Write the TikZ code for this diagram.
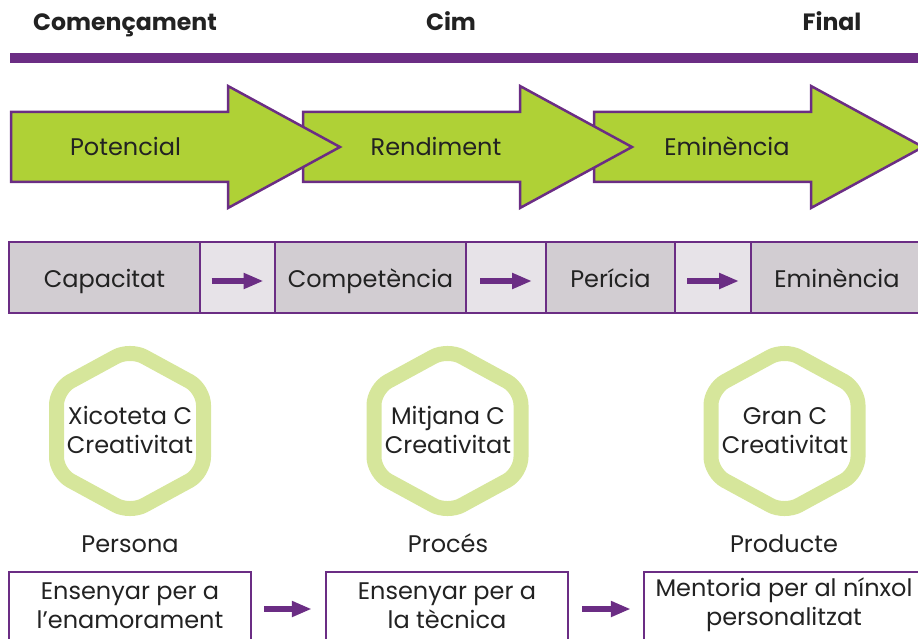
\documentclass[tikz,border=0pt]{standalone}
\usepackage{fontspec}
\setmainfont{Poppins}
\usetikzlibrary{arrows.meta}
\definecolor{purp}{HTML}{6B2D84}
\definecolor{lime}{HTML}{AFD136}
\definecolor{hexg}{HTML}{D6E69B}
\definecolor{boxg}{HTML}{D2CDD2}
\definecolor{boxl}{HTML}{E7E3E8}
\definecolor{ink}{HTML}{222222}
\begin{document}
\begin{tikzpicture}[x=1pt,y=-1pt,
  head/.style={text=ink,font=\bfseries\fontsize{23.6}{27}\selectfont,inner sep=0pt,anchor=base},
  body/.style={text=ink,font=\fontsize{24}{28.5}\selectfont,inner sep=0pt,align=center},
  txt/.style={body,anchor=base},
  bigarrow/.style={draw=purp,fill=lime,line width=2.5pt,line join=miter},
  cellbox/.style={draw=purp,fill=boxg,line width=2.5pt,minimum height=71pt,inner sep=0pt},
  arrowcell/.style={cellbox,fill=boxl},
  fat/.style={draw=purp,line width=5.5pt,-{Triangle[length=20pt,width=15pt]}},
  hexring/.style={draw=hexg,line width=15pt,rounded corners=16pt,line join=round},
  botbox/.style={draw=purp,fill=white,line width=2.5pt,minimum width=242pt,minimum height=74pt,inner sep=0pt}]
\useasboundingbox (0,0) rectangle (918,639);
\clip (0,0) rectangle (918,639);
% headers
\node[head] (h1) at (125,31) {Començament};
\node[head] (h2) at (451,31) {Cim};
\node[head] (h3) at (832,31) {Final};
\fill[purp] (10,53) rectangle (920,63);
% big arrows (drawn last-to-first so each head lies on top)
\foreach \x in {594,303,11}{
  \draw[bigarrow] (\x,112) -- (\x+217,112) -- (\x+217,86) -- (\x+329,147) -- (\x+217,208) -- (\x+217,182) -- (\x,182) -- cycle;
}
\node[txt] (p1) at (125.5,156) {Potencial};
\node[txt] (p2) at (436,156) {Rendiment};
\node[txt] (p3) at (727,156) {Eminència};
% row of stages
\node[cellbox,minimum width=191pt] (c1) at (104.5,277.5) {};
\node[arrowcell,minimum width=75pt] (a1) at (237.5,277.5) {};
\node[cellbox,minimum width=191pt] (c2) at (370.5,277.5) {};
\node[arrowcell,minimum width=80pt] (a2) at (506,277.5) {};
\node[cellbox,minimum width=129pt] (c3) at (610.5,277.5) {};
\node[arrowcell,minimum width=76pt] (a3) at (713,277.5) {};
\node[cellbox,minimum width=172pt] (c4) at (837,277.5) {};
\node[txt] (c1t) at (104.5,287) {Capacitat};
\node[txt] (c2t) at (370.5,287) {Competència};
\node[txt] (c3t) at (610.5,287) {Perícia};
\node[txt] (c4t) at (837,287) {Eminència};
\foreach \a in {a1,a2,a3}{
  \draw[fat] ([xshift=-26pt,yshift=-3.5pt]\a.center) -- ([xshift=26pt,yshift=-3.5pt]\a.center);
}
% hexagons
\coordinate (hx1) at (130,431);
\coordinate (hx2) at (447.5,431);
\coordinate (hx3) at (784.5,431);
\foreach \h in {hx1,hx2,hx3}{
  \draw[hexring,shift={(\h)}] (73.5,0) -- (73.5,42) -- (0,82) -- (-73.5,42) -- (-73.5,-42) -- (0,-82) -- (73.5,-42) -- cycle;
}
\node[txt] (t1) at (130,453) {Xicoteta C\\Creativitat};
\node[txt] (t2) at (448,453) {Mitjana C\\Creativitat};
\node[txt] (t3) at (785,453) {Gran C\\Creativitat};
\node[txt] (l1) at (130,552) {Persona};
\node[txt] (l2) at (448,552) {Procés};
\node[txt] (l3) at (784,552) {Producte};
% bottom boxes
\node[botbox] (b1) at (130,609) {};
\node[botbox] (b2) at (447,609) {};
\node[botbox,minimum width=286pt] (b3) at (787,609) {};
\node[txt] (b1t) at (130,628) {Ensenyar per a\\l’enamorament};
\node[txt] (b2t) at (447,628) {Ensenyar per a\\la tècnica};
\node[txt] (b3t) at (784,625) {Mentoria per al nínxol\\personalitzat};
\draw[fat] ([xshift=12pt]b1.east) -- ([xshift=-13pt]b2.west);
\draw[fat] ([xshift=13pt]b2.east) -- ([xshift=-12pt]b3.west);
\end{tikzpicture}
\end{document}
